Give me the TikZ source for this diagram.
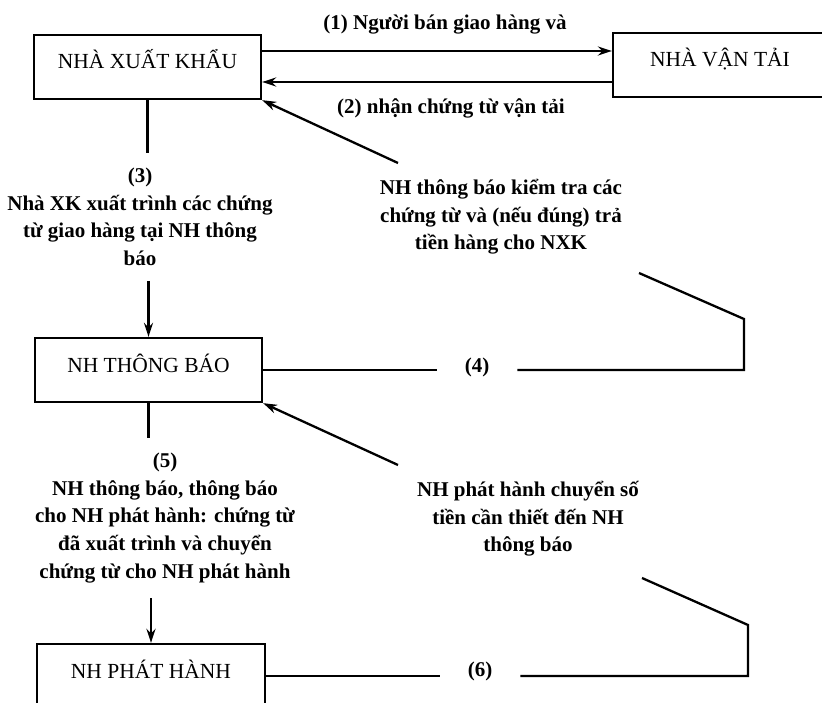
\documentclass[tikz,border=0pt]{standalone}
\usepackage{fontspec}
\setmainfont{Liberation Serif}
\usetikzlibrary{arrows.meta}
\tikzset{
  box/.style={draw, line width=2.3pt, minimum width=227pt, minimum height=64pt, inner sep=0pt, text height=13pt, text depth=9pt, font=\fontsize{21.5}{24}\selectfont},
  lbl/.style={align=center, inner sep=0pt, font=\fontsize{21}{27.6}\selectfont\bfseries},
  link/.style={line width=2.3pt},
}
\begin{document}
\begin{tikzpicture}[x=1pt, y=-1pt, >={Stealth[length=14pt, width=9pt]}]
  \clip (0,0) rectangle (822,703);
  \node[box] (xk) at (147.5,67) {NHÀ XUẤT KHẨU};
  \node[box, minimum width=214pt] (vt) at (720,65) {NHÀ VẬN TẢI};
  \node[box] (tb) at (148.5,370) {NH THÔNG BÁO};
  \node[box, minimum width=228pt] (ph) at (151,676) {NH PHÁT HÀNH};
  \coordinate (a1) at ([yshift=16pt]xk.east);
  \coordinate (a2) at ([yshift=-15pt]xk.east);
  \draw[link, ->] (a1) -- (a1 -| vt.west);
  \draw[link, ->] (a2 -| vt.west) -- (a2);
  \node[lbl] (l1) at (445,25) {(1) Người bán giao hàng và};
  \node[lbl] (l2) at (451,108) {(2) nhận chứng từ vận tải};
  \node[lbl, inner ysep=15pt] (t3) at (140,217) {(3)\\Nhà XK xuất trình các chứng\\từ giao hàng tại NH thông\\báo};
  \draw[link] (xk.south) -- (xk.south |- t3.north);
  \draw[link, ->] (tb.north |- t3.south) -- (tb.north);
  \node[lbl] (k4) at (501,217) {NH thông báo kiểm tra các\\chứng từ và (nếu đúng) trả\\tiền hàng cho NXK};
  \node[lbl, inner xsep=28pt] (n4) at (477,367) {(4)};
  \coordinate (r4) at (744,319);
  \coordinate (k4r) at (639,273);
  \coordinate (k4l) at (398,163);
  \draw[link] (tb.east) -- (tb.east -| n4.west);
  \draw[link] (tb.east -| n4.east) -- (tb.east -| r4) -- (r4) -- (k4r);
  \draw[link, ->] (k4l) -- (xk.south east);
  \node[lbl, inner ysep=15pt] (t5) at (165,518) {(5)\\NH thông báo, thông báo\\cho NH phát hành: chứng từ\\đã xuất trình và chuyển\\chứng từ cho NH phát hành};
  \draw[link] (tb.south) -- (tb.south |- t5.north);
  \draw[link, ->] (ph.north |- t5.south) -- (ph.north);
  \node[lbl] (k6) at (528,519) {NH phát hành chuyển số\\tiền cần thiết đến NH\\thông báo};
  \node[lbl, inner xsep=28pt] (n6) at (480,671) {(6)};
  \coordinate (r6) at (748,625);
  \coordinate (k6r) at (642,578);
  \coordinate (k6l) at (398,465);
  \draw[link] (ph.east) -- (ph.east -| n6.west);
  \draw[link] (ph.east -| n6.east) -- (ph.east -| r6) -- (r6) -- (k6r);
  \draw[link, ->] (k6l) -- (tb.south east);
\end{tikzpicture}
\end{document}
